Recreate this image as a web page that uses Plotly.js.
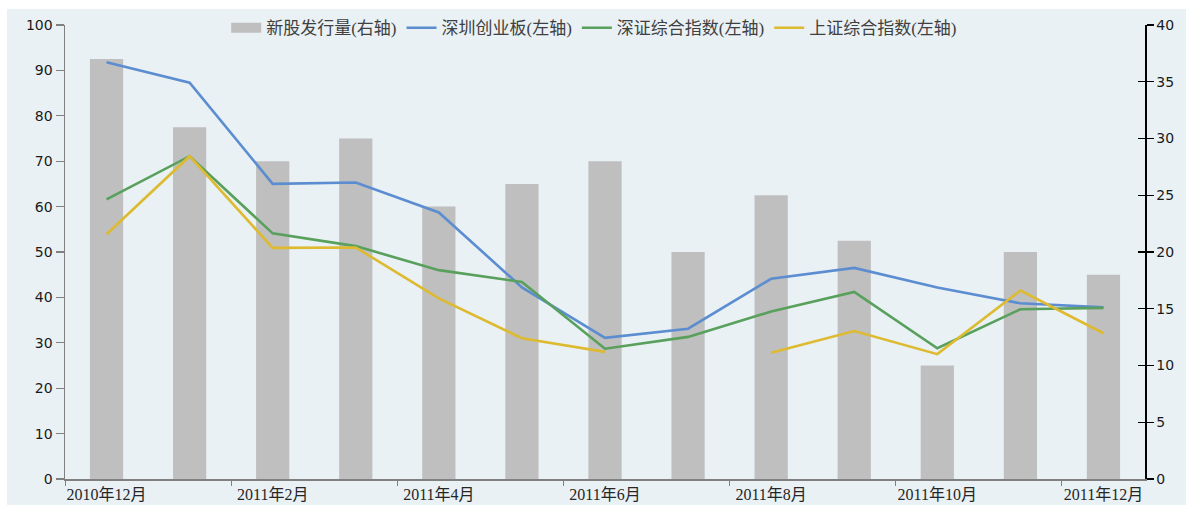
<!DOCTYPE html>
<html>
<head>
<meta charset="utf-8">
<script src="https://cdn.plot.ly/plotly-3.0.1.min.js"></script>
<style>
html,body{margin:0;padding:0;background:#ffffff;}
#chart{position:absolute;left:7px;top:9px;width:1179px;height:496px;}
</style>
</head>
<body>
<div id="chart"></div>
<script>
const months = ["2010年12月","2011年1月","2011年2月","2011年3月","2011年4月","2011年5月","2011年6月","2011年7月","2011年8月","2011年9月","2011年10月","2011年11月","2011年12月"];
const ipoCount = [37, 31, 28, 30, 24, 26, 28, 20, 25, 21, 10, 20, 18];
const chinext = [91.8, 87.3, 65.0, 65.3, 58.7, 42.2, 31.1, 33.1, 44.1, 46.5, 42.2, 38.7, 37.8];
const szComposite = [61.6, 71.1, 54.1, 51.3, 46.0, 43.4, 28.7, 31.3, 36.9, 41.2, 28.8, 37.4, 37.7];
const shComposite = [53.9, 71.1, 50.9, 51.0, 39.8, 31.0, 28.0, null, 27.8, 32.6, 27.5, 41.5, 32.1];
const seriesNames = ["新股发行量(右轴)","深圳创业板(左轴)","深证综合指数(左轴)","上证综合指数(左轴)"];

const cjkSerif = "'Liberation Serif', 'Noto Sans CJK SC', serif";
const numFont = "'DejaVu Sans', 'Liberation Sans', sans-serif";
const barColor = '#BFBFBF';

const traces = [
  {type:'bar', x:months, y:ipoCount, name:seriesNames[0], yaxis:'y', xaxis:'x',
   marker:{color:barColor, line:{width:0}}, width:0.4, showlegend:false},
  // legend swatch for the bar series (wide grey rectangle like the original)
  {type:'scatter', mode:'lines', x:[null], y:[null], name:seriesNames[0], yaxis:'y',
   line:{color:barColor, width:10}, hoverinfo:'skip'},
  {type:'scatter', mode:'lines', x:months, y:chinext, name:seriesNames[1], yaxis:'y2',
   line:{color:'#5B8DD0', width:2.6}},
  {type:'scatter', mode:'lines', x:months, y:szComposite, name:seriesNames[2], yaxis:'y2',
   line:{color:'#58A05C', width:2.6}},
  {type:'scatter', mode:'lines', x:months, y:shComposite, name:seriesNames[3], yaxis:'y2',
   line:{color:'#DDBA30', width:2.6}, connectgaps:false},
  {type:'scatter', mode:'lines', x:[], y:[], yaxis:'y3', showlegend:false, hoverinfo:'skip'}
];

const layout = {
  width:1179, height:496,
  paper_bgcolor:'#E9F1F5', plot_bgcolor:'rgba(0,0,0,0)',
  margin:{l:58, r:41, t:16, b:26, autoexpand:false},
  showlegend:true,
  legend:{orientation:'h', x:0.49, xanchor:'center', y:0.993, yanchor:'middle',
          bgcolor:'rgba(0,0,0,0)', font:{family:cjkSerif, size:17, color:'#404040'},
          tracegroupgap:0},
  xaxis:{type:'category', range:[-0.5,12.5], tickmode:'linear', tick0:0, dtick:2, tickangle:0,
         tickson:'boundaries', ticks:'outside', ticklen:5, tickcolor:'#808080', tickwidth:1,
         showline:true, linecolor:'#808080', linewidth:1.5, showgrid:false, zeroline:false,
         tickfont:{family:cjkSerif, size:16, color:'#262626'}, automargin:false},
  yaxis:{side:'right', range:[0,40], dtick:5, tick0:0, ticks:'outside', ticklen:7,
         tickcolor:'#000000', tickwidth:1.3, showline:true, linecolor:'#000000', linewidth:1.5,
         showgrid:false, zeroline:false, tickfont:{family:numFont, size:14, color:'#1a1a1a'},
         automargin:false},
  yaxis2:{overlaying:'y', side:'left', range:[0,100], dtick:10, tick0:0, ticks:'outside', ticklen:8,
          tickcolor:'#808080', tickwidth:1.3, showline:true, linecolor:'#808080', linewidth:1.5,
          showgrid:false, zeroline:false, tickfont:{family:numFont, size:14, color:'#1a1a1a'},
          automargin:false},
  yaxis3:{overlaying:'y', side:'right', range:[0,40], dtick:5, tick0:0, ticks:'inside', ticklen:7,
          tickcolor:'#000000', tickwidth:1.3, showline:false, showgrid:false, zeroline:false,
          showticklabels:false, automargin:false}
};

Plotly.newPlot('chart', traces, layout, {displayModeBar:false, staticPlot:true});
</script>
</body>
</html>
